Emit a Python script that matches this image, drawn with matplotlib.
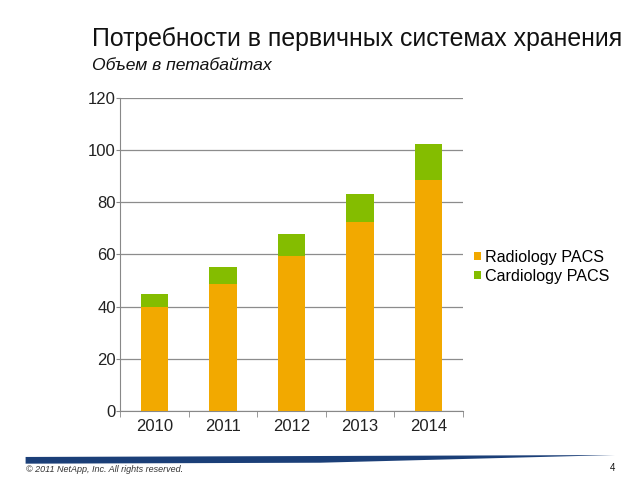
import numpy as np
import matplotlib.pyplot as plt
from matplotlib.patches import Polygon

# Data (petabytes)
years = ['2010', '2011', '2012', '2013', '2014']
radiology = [40, 48.7, 59.4, 72.6, 88.6]
cardiology = [4.9, 6.5, 8.3, 10.7, 13.8]

plt.rcParams['font.family'] = ['Liberation Sans', 'DejaVu Sans']

orange = '#F2A900'
green = '#84BD00'

fig = plt.figure(figsize=(6.4, 4.8), dpi=100)
ax = fig.add_axes([0.1875, 0.144, 0.536, 0.652])

x = np.arange(len(years))
ax.bar(x, radiology, width=0.4, color=orange, label='Radiology PACS', zorder=3)
ax.bar(x, cardiology, width=0.4, bottom=radiology, color=green,
       label='Cardiology PACS', zorder=3)

ax.set_ylim(0, 120)
ax.set_yticks(range(0, 121, 20))
ax.set_xlim(-0.5, len(years) - 0.5)
ax.set_xticks(x)
ax.set_xticklabels(years)
ax.set_xticks(np.arange(-0.5, len(years), 1), minor=True)
ax.tick_params(axis='x', which='major', length=0, pad=6, labelsize=12, labelcolor='#222222')
ax.tick_params(axis='x', which='minor', length=4, direction='out', color='#888888')
ax.tick_params(axis='y', length=3, direction='out', color='#888888', labelsize=12,
               pad=0, labelcolor='#222222')
ax.grid(axis='y', color='#8c8c8c', linewidth=0.9, zorder=0)
for s in ['top', 'right']:
    ax.spines[s].set_visible(False)
ax.spines['left'].set_color('#888888')
ax.spines['bottom'].set_color('#888888')

ax.legend(loc='center left', bbox_to_anchor=(1.0, 0.46), frameon=False,
          fontsize=11.6, handlelength=0.4, handleheight=0.4, handletextpad=0.25,
          labelspacing=0.25, borderaxespad=0.3)

fig.text(0.144, 0.905, 'Потребности в первичных системах хранения', fontsize=17.9,
         color='#111111')
fig.text(0.144, 0.855, 'Объем в петабайтах', fontsize=12.6, style='italic', color='#111111')

# footer stroke
stroke = Polygon([[0.04, 0.048], [0.5, 0.05], [0.961, 0.052], [0.5, 0.036],
                  [0.04, 0.034]], closed=True,
                 transform=fig.transFigure, facecolor='#1b3f78', edgecolor='none')
fig.add_artist(stroke)
fig.text(0.04, 0.022, '© 2011 NetApp, Inc. All rights reserved.', fontsize=6.5,
         style='italic', color='#333333', va='center')
fig.text(0.962, 0.026, '4', fontsize=7, ha='right', va='center', color='#111111')

fig.savefig('out.png', dpi=100)
